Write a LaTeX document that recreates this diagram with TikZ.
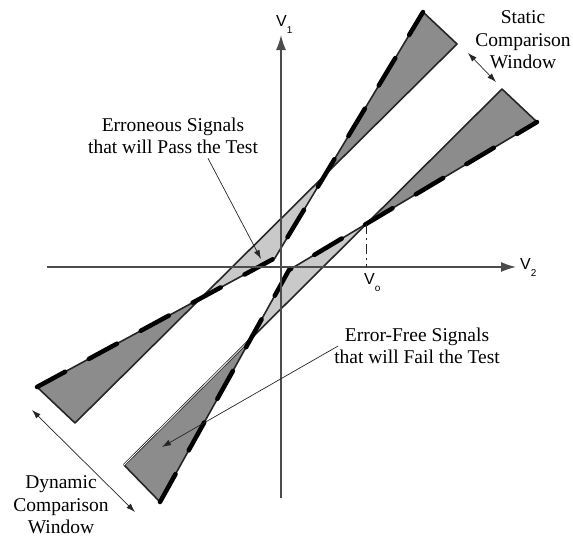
\documentclass[tikz,border=0pt]{standalone}
\usepackage{fontspec}
\setmainfont{Liberation Serif}
\newfontfamily\axisfont{Liberation Sans}
\usetikzlibrary{arrows.meta}
\definecolor{bandfill}{gray}{0.55}
\definecolor{gapfill}{gray}{0.79}
\definecolor{edgecol}{gray}{0.15}
\definecolor{axiscol}{gray}{0.3}
\newcommand\lowidx[1]{\raisebox{-7pt}{\fontsize{10}{10}\selectfont #1}}

\begin{document}
\begin{tikzpicture}[x=1pt,y=-1pt,>={Latex[length=9pt,width=6pt]},
  font=\fontsize{19.5}{22.5}\selectfont,
  edge/.style={draw=edgecol,line width=1.6pt,line join=round},
  signal/.style={line width=4.5pt,line cap=round,dash pattern=on 32pt off 27pt},
  axis/.style={draw=axiscol,line width=1.4pt,-{Latex[length=15pt,width=10pt]}},
  pointer/.style={draw=edgecol,line width=0.7pt},
  label/.style={align=center,inner sep=0pt},
  vlabel/.style={font=\axisfont\fontsize{16}{16}\selectfont,inner sep=0pt,anchor=base west}]
  \useasboundingbox (0,0) rectangle (573,541);

  % Static window (upper band)
  \coordinate (A1) at (37,387);
  \coordinate (A2) at (75,423);
  \coordinate (UK) at (275,258);
  \coordinate (A3) at (423,12);
  \coordinate (A4) at (457,44);
  \coordinate (C1) at (intersection of A2--A4 and A1--UK);
  \coordinate (C2) at (intersection of A2--A4 and UK--A3);
  \fill[bandfill] (A1) -- (C1) -- (A2) -- cycle;
  \fill[bandfill] (A3) -- (C2) -- (A4) -- cycle;
  \fill[gapfill] (C1) -- (UK) -- (C2) -- cycle;
  \draw[edge] (A1) -- (A2) -- (A4) -- (A3);
  \draw[edge] (A1) -- (UK) -- (A3);
  \draw[signal] (A1) -- (UK) -- (A3);

  % Dynamic window (lower band)
  \coordinate (B1) at (124,465);
  \coordinate (B2) at (160,502);
  \coordinate (LK) at (289,270);
  \coordinate (B3) at (502,89);
  \coordinate (B4) at (537,122);
  \coordinate (D1) at (intersection of B1--B3 and B2--LK);
  \coordinate (D2) at (intersection of B1--B3 and LK--B4);
  \fill[bandfill] (B1) -- (D1) -- (B2) -- cycle;
  \fill[bandfill] (B3) -- (D2) -- (B4) -- cycle;
  \fill[gapfill] (D1) -- (LK) -- (D2) -- cycle;
  \draw[edge] (B1) -- (B2);
  \draw[edgecol,line width=0.8pt,double=white,double distance=0.8pt] (B1) -- (D1);
  \draw[edge] (D1) -- (B3) -- (B4);
  \draw[edge] (B2) -- (LK) -- (B4);
  \draw[signal] (B2) -- (LK) -- (B4);

  % Axes
  \coordinate (xs) at (47,267);
  \coordinate (xe) at (516,267);
  \coordinate (ys) at (281,498);
  \coordinate (ye) at (281,35);
  \draw[axis] (xs) -- (xe);
  \draw[axis] (ys) -- (ye);
  \node[vlabel] (v1) at (276,26) {V\lowidx{1}};
  \node[vlabel] (v2) at (520,269) {V\lowidx{2}};
  \node[vlabel] (vo) at (364,284) {V\lowidx{o}};
  \draw[edgecol,line width=1.2pt,dash pattern=on 10pt off 4pt on 2pt off 4pt] (D2) -- (D2 |- xs);

  % Labels and pointers
  \node[label] (errtxt) at (173,136) {Erroneous Signals\\that will Pass the Test};
  \node[label] (oktxt) at (417,346) {Error-Free Signals\\that will Fail the Test};
  \node[label] (stattxt) at (523,40) {Static\\Comparison\\Window};
  \node[label] (dyntxt) at (61,505) {Dynamic\\Comparison\\Window};
  \coordinate (errtip) at (261,259);
  \coordinate (oktip) at (162,447);
  \draw[pointer,->] ([xshift=35pt,yshift=-4pt]errtxt.south) -- (errtip);
  \draw[pointer,->] ([xshift=4pt]oktxt.west) -- (oktip);
  \coordinate (sa) at (468,53);
  \coordinate (sb) at (496,82);
  \coordinate (da) at (32,410);
  \coordinate (db) at (135,512);
  \draw[pointer,<->] (sa) -- (sb);
  \draw[pointer,<->] (da) -- (db);
\end{tikzpicture}
\end{document}
